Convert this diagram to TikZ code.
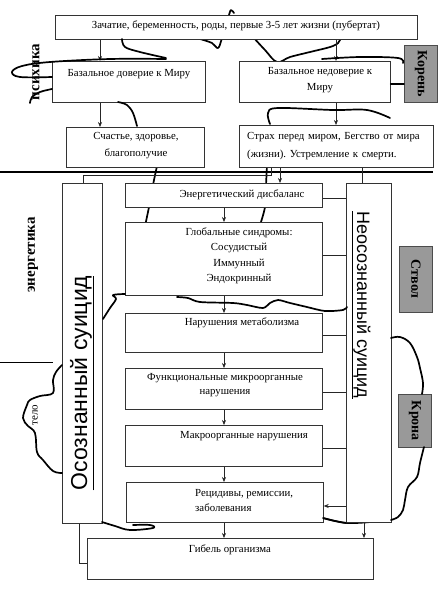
\documentclass[tikz,border=0pt]{standalone}
\usepackage{fontspec}
\setmainfont{Liberation Serif}
\setsansfont{Liberation Sans}
\usetikzlibrary{arrows.meta}
\frenchspacing
\begin{document}
\begin{tikzpicture}[x=1pt,y=-1pt,
  box/.style={rectangle, draw=black!80, line width=0.7pt, fill=white, inner sep=0pt, anchor=north west},
  gbox/.style={box, fill=black!40, draw=black!70},
  txt/.style={font=\fontsize{10.8}{15}\selectfont, inner sep=0pt, align=center},
  conn/.style={draw=black!85, line width=0.6pt},
  arr/.style={conn, -{Stealth[length=5pt,width=4pt]}},
  tree/.style={line width=1.7pt, line cap=round, line join=round},
  lbl/.style={font=\fontsize{15}{15}\selectfont\bfseries, inner sep=0pt},
  glbl/.style={font=\fontsize{14}{14}\selectfont\bfseries, inner sep=0pt, rotate=-90},
]
\useasboundingbox (0,0) rectangle (444,600);

% ---- tree outline parts hidden behind boxes
\draw[tree] plot[smooth, tension=0.6] coordinates {(200,39) (212,43) (218,48) (222,38) (229,15) (231,10) (234,13)};
\draw[tree] plot[smooth, tension=0.6] coordinates {(253,37) (265,50) (277,62) (290,57) (310,52) (333,46) (340,40) (338,33)};
\draw[tree] plot[smooth, tension=0.6] coordinates {(157,166) (153,185) (149,207) (145,226)};
\draw[tree] plot[smooth, tension=0.6] coordinates {(267,166) (266,185) (265,207) (259,228)};
\draw[tree] plot[smooth, tension=0.6] coordinates {(391,518) (370,522) (348,523) (335,521) (323,518)};

% ---- separator lines
\draw[line width=1.5pt] (0,172) -- (433,172);
\draw[line width=0.6pt] (0,362) -- (53,362);

% ---- boxes
\node[box, minimum width=362, minimum height=24] (top) at (55,15) {};
\node[box, minimum width=153, minimum height=41] (bd) at (52,61) {};
\node[box, minimum width=151, minimum height=41] (bn) at (239,61) {};
\node[box, minimum width=138, minimum height=40] (sch) at (66,127) {};
\node[box, minimum width=194, minimum height=42] (str) at (239,125) {};
\node[box, minimum width=197, minimum height=24] (en) at (125,183) {};
\node[box, minimum width=197, minimum height=73] (gl) at (125,222) {};
\node[box, minimum width=197, minimum height=39] (met) at (125,313) {};
\node[box, minimum width=197, minimum height=41] (fun) at (125,368) {};
\node[box, minimum width=197, minimum height=41] (mac) at (125,425) {};
\node[box, minimum width=197, minimum height=40] (rec) at (126,482) {};
\node[box, minimum width=286, minimum height=41] (gib) at (87,538) {};
\node[box, minimum width=40, minimum height=340] (lc) at (62,183) {};
\node[box, minimum width=45, minimum height=339] (rc) at (346,183) {};
\node[gbox, minimum width=33, minimum height=57] (kor) at (404,45) {};
\node[gbox, minimum width=33, minimum height=66] (stv) at (399,246) {};
\node[gbox, minimum width=33, minimum height=53] (kro) at (398,394) {};

% ---- texts
\node[txt] (ttop) at (236,26) {Зачатие, беременность, роды, первые 3-5 лет жизни (пубертат)};
\node[txt] (tbd) at (129,74) {Базальное доверие к Миру};
\node[txt] (tbn) at (320,80) {Базальное недоверие к\\[1pt]Миру};
\node[txt] (tsch) at (136,146) {Счастье, здоровье,\\[2pt]благополучие};
\node[txt, align=left, text width=182, anchor=west] (tstr) at (247,146) {\makebox[182pt][s]{Страх перед миром, Бегство от мира}\\[3pt](жизни). Устремление к смерти.};
\node[txt] (ten) at (242,195) {Энергетический дисбаланс};
\node[txt] (tgl) at (239,256) {Глобальные синдромы:\\[0.5pt]Сосудистый\\[0.5pt]Иммунный\\[0.5pt]Эндокринный};
\node[txt] (tmet) at (242,323) {Нарушения метаболизма};
\node[txt] (tfun) at (225,385) {Функциональные микроорганные\\[-1pt]нарушения};
\node[txt] (tmac) at (244,436) {Макроорганные нарушения};
\node[txt, align=left, anchor=west] (trec) at (195,500.5) {Рецидивы, ремиссии,\\заболевания};
\node[txt] (tgib) at (230,550) {Гибель организма};

\node[font=\sffamily\fontsize{23}{23}\selectfont, rotate=90, inner sep=0pt] (tlc) at (82,383) {\underline{Осознанный суицид}};
\node[font=\sffamily\fontsize{18}{18}\selectfont, rotate=-90, inner sep=0pt] (trc) at (361,305) {\underline{Неосознанный суицид}};

\node[glbl] (tkor) at (kor.center) {Корень};
\node[glbl] (tstv) at (stv.center) {Ствол};
\node[glbl] (tkro) at (kro.center) {Крона};
\node[lbl, rotate=90] (tpsi) at (36,72) {психика};
\node[lbl, rotate=90] (tene) at (33,255) {энергетика};
\node[font=\fontsize{11}{11}\selectfont, inner sep=0pt, rotate=90] (ttel) at (35,415) {тело};

% ---- helper coordinates
\coordinate (xa) at (100,0);
\coordinate (xb) at (336,0);
\coordinate (xc) at (280,0);
\coordinate (xf) at (362,0);
\coordinate (xm) at (224,0);
\coordinate (xg) at (364,0);
\coordinate (j1) at (271,175);
\coordinate (j2) at (83,175);
\coordinate (k1) at (79,563);
\coordinate (hy1) at (0,198);
\coordinate (hy2) at (0,255);
\coordinate (hy3) at (0,335);
\coordinate (hy4) at (0,392);
\coordinate (hy5) at (0,448);
\coordinate (hy6) at (0,506);

% ---- connectors
\draw[arr] (top.south -| xa) -- (bd.north -| xa);
\draw[arr] (top.south -| xb) -- (bn.north -| xb);
\draw[arr] (bd.south -| xa) -- (sch.north -| xa);
\draw[arr] (bn.south -| xb) -- (str.north -| xb);
\draw[arr] (str.south -| xc) -- (en.north -| xc);
\draw[conn] (str.south -| j1) -- (j1) -- (j2) -- (lc.north -| j2);
\draw[conn] (str.south -| xf) -- (rc.north -| xf);
\draw[arr] (en.south -| xm) -- (gl.north -| xm);
\draw[arr] (gl.south -| xm) -- (met.north -| xm);
\draw[arr] (met.south -| xm) -- (fun.north -| xm);
\draw[arr] (fun.south -| xm) -- (mac.north -| xm);
\draw[arr] (mac.south -| xm) -- (rec.north -| xm);
\draw[arr] (rec.south -| xm) -- (gib.north -| xm);
\draw[conn] (en.east |- hy1) -- (rc.west |- hy1);
\draw[conn] (gl.east |- hy2) -- (rc.west |- hy2);
\draw[conn] (met.east |- hy3) -- (rc.west |- hy3);
\draw[conn] (fun.east |- hy4) -- (rc.west |- hy4);
\draw[conn] (mac.east |- hy5) -- (rc.west |- hy5);
\draw[arr] (rc.west |- hy6) -- (rec.east |- hy6);
\draw[arr] (rc.south -| xg) -- (gib.north -| xg);
\draw[conn] (lc.south -| k1) -- (k1) -- (gib.west |- k1);

% ---- tree outline, visible parts
\draw[tree] plot[smooth, tension=0.6] coordinates {(122,39) (125,47) (140,52) (166,58)};
\draw[tree] plot[smooth, tension=0.6] coordinates {(166,59) (110,59) (50,62) (22,66) (12,72) (20,77) (52,77)};
\draw[tree] plot[smooth, tension=0.6] coordinates {(52,89) (40,92) (32,97) (30,103)};
\draw[tree] plot[smooth, tension=0.6] coordinates {(322,59) (360,57) (398,58) (403,63)};
\draw[tree] (bn.east |- 0,84) -- (kor.west |- 0,84);
\draw[tree] plot[smooth, tension=0.6] coordinates {(118,102) (127,105) (133,113) (137,126)};
\draw[tree] plot[smooth, tension=0.6] coordinates {(270,124) (268,113) (278,108) (333,110) (367,110) (390,118)};
\draw[tree] plot[smooth, tension=0.6] coordinates {(125,294) (113,295) (116,299) (110,308) (103,319)};
\draw[tree] plot[smooth, tension=0.5] coordinates {(177,297) (188,298) (200,302) (233,303) (247,305) (263,308) (270,303) (278,300) (290,303) (307,307) (325,311) (343,310) (347,307)};
\draw[tree] plot[smooth, tension=0.6] coordinates {(62,365) (56,372) (53,380) (53,393) (40,396) (30,400) (27,405) (23,418) (28,426) (35,433) (37,452) (43,460) (53,471) (62,473)};
\draw[tree] plot[smooth, tension=0.6] coordinates {(391,338) (400,337) (410,343) (417,357) (420,368) (423,383) (422,394)};
\draw[tree] plot[smooth, tension=0.6] coordinates {(424,447) (420,463) (417,477) (408,487) (405,500) (403,510) (398,517) (391,520)};
\draw[tree] plot[smooth, tension=0.6] coordinates {(346,523) (335,521) (323,518)};
\draw[tree] plot[smooth, tension=0.6] coordinates {(102,522) (115,526) (130,530) (153,528) (150,525) (133,525)};
\end{tikzpicture}
\end{document}
